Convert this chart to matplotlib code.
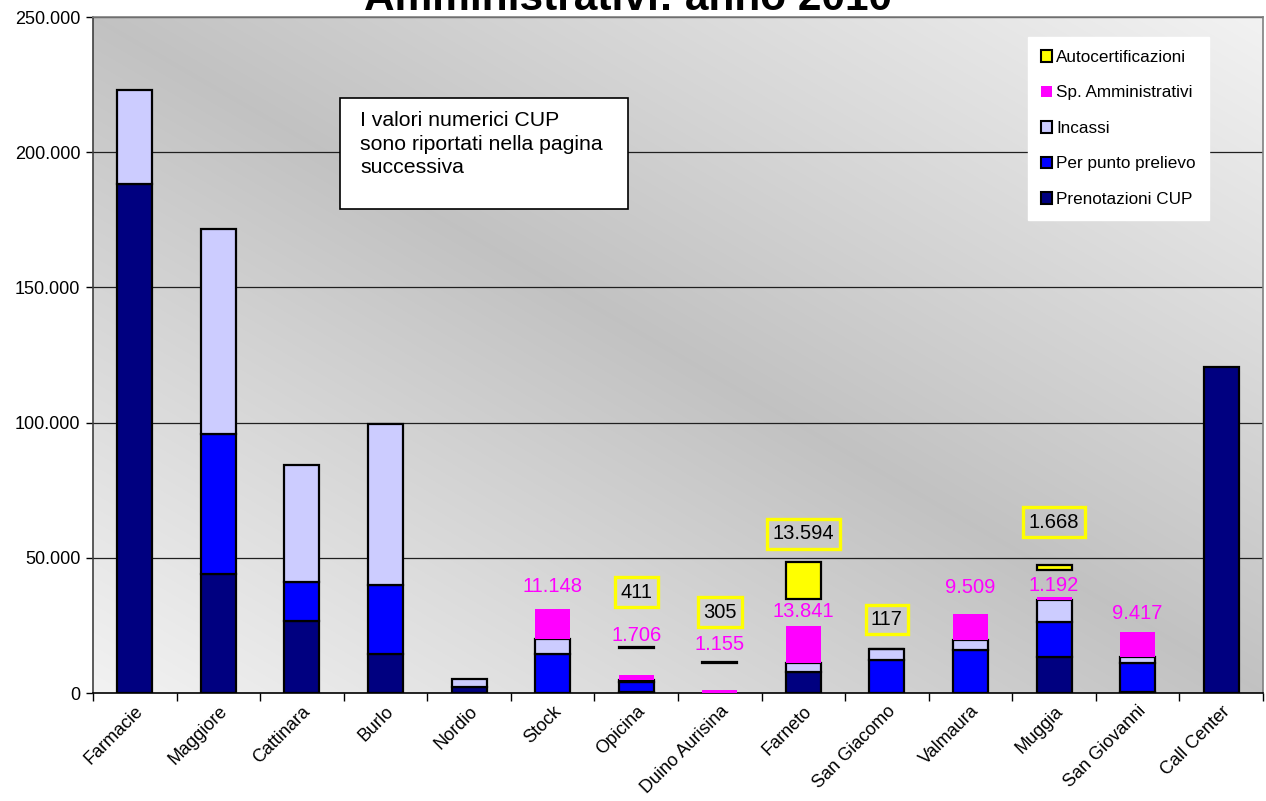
import numpy as np
import matplotlib
matplotlib.use("Agg")
import matplotlib.pyplot as plt
from matplotlib.patches import Patch, Rectangle
from matplotlib.ticker import FuncFormatter

plt.rcParams['font.family'] = ['Liberation Sans', 'DejaVu Sans']

categories = ["Farmacie", "Maggiore", "Cattinara", "Burlo", "Nordio", "Stock", "Opicina",
              "Duino Aurisina", "Farneto", "San Giacomo", "Valmaura", "Muggia", "San Giovanni",
              "Call Center"]
prenotazioni_cup = [188200, 44000, 26600, 14400, 2400, 0, 400, 0, 7800, 0, 0, 13300, 500, 120500]
per_punto_prelievo = [0, 51800, 14400, 25500, 0, 14500, 3500, 0, 0, 12300, 16000, 13000, 10600, 0]
incassi = [34800, 75800, 43300, 59500, 2700, 5500, 900, 0, 3300, 4000, 3600, 8100, 2200, 0]
sp_amministrativi = [0, 0, 0, 0, 0, 11148, 1706, 1155, 13841, 0, 9509, 1192, 9417, 0]
autocertificazioni = [0, 0, 0, 0, 0, 0, 411, 305, 13594, 117, 0, 1668, 0, 0]
# hidden spacer series that lifts the Autocertificazioni segment
spacer = [0, 0, 0, 0, 0, 0, 10000, 10000, 10000, 0, 0, 10000, 0, 0]

# label placement offsets (points above the segment top, label centre)
sp_label_off = {5: 15.8, 6: 28.8, 7: 33, 8: 10, 10: 19.4, 11: 7.9, 12: 13}
au_label_off = {6: 39.6, 7: 36, 8: 20, 9: 21, 11: 31}

fig = plt.figure(figsize=(12.66, 8.01), dpi=100)
ax = fig.add_axes([93/1266, 1-693/801, (1263-93)/1266, (693-17)/801])

x = np.arange(len(categories))
w = 0.42

# gradient background: dark along the top-left/bottom-right diagonal, light at the other corners
ny, nx = 300, 500
xs = np.linspace(0, 1, nx)
ys = np.linspace(1, 0, ny)
X, Y = np.meshgrid(xs, ys)
d = np.abs(X + Y - 1)
g = 0.76 + 0.19 * np.clip(d, 0, 1)
img = np.dstack([g, g, g])
ax.imshow(img, extent=[-0.5, len(categories)-0.5, 0, 250000], aspect='auto', zorder=0,
          interpolation='bilinear')

ax.set_xlim(-0.5, len(categories)-0.5)
ax.set_ylim(0, 250000)

for yv in range(50000, 250001, 50000):
    ax.axhline(yv, color='#202020', lw=0.9, zorder=1)

edge = dict(edgecolor='black', linewidth=1.6)
bottom = np.zeros(len(categories))
pc = np.array(prenotazioni_cup, float)
pp = np.array(per_punto_prelievo, float)
inc = np.array(incassi, float)
sp = np.array(sp_amministrativi, float)
au = np.array(autocertificazioni, float)
spc = np.array(spacer, float)

def draw(vals, color, bot, **kw):
    m = vals > 0
    ax.bar(x[m], vals[m], w, bottom=bot[m], color=color, zorder=3, **kw)

draw(pc, '#000080', bottom, **edge); bottom = bottom + pc
draw(pp, '#0000FF', bottom, **edge); bottom = bottom + pp
draw(inc, '#CCCCFF', bottom, **edge); bottom = bottom + inc
draw(sp, '#FF00FF', bottom, edgecolor='none'); bottom = bottom + sp
sp_top = bottom.copy()
bottom = bottom + spc
draw(au, '#FFFF00', bottom, **edge)
au_top = bottom + au

def fmt_it(v):
    return f"{int(round(v)):,}".replace(",", ".")

for i, off in sp_label_off.items():
    ax.annotate(fmt_it(sp[i]), (x[i], sp_top[i]), xytext=(0, off), textcoords='offset points',
                ha='center', va='center', color='#FF00FF', fontsize=14.5, zorder=5)
for i, off in au_label_off.items():
    ax.annotate(fmt_it(au[i]), (x[i], au_top[i]), xytext=(0, off), textcoords='offset points',
                ha='center', va='center', color='black', fontsize=14.5, zorder=5,
                bbox=dict(boxstyle='square,pad=0.27', fc='none', ec='#FFFF00', lw=2.4))

# y axis
ax.yaxis.set_major_formatter(FuncFormatter(lambda v, p: fmt_it(v)))
ax.set_yticks(range(0, 250001, 50000))
ax.tick_params(axis='y', labelsize=13, length=5, width=1, color='black', pad=4)
# x axis: ticks at boundaries
ax.set_xticks(np.arange(len(categories)+1) - 0.5, minor=False)
ax.set_xticklabels([])
ax.set_xticks(x, minor=True)
ax.set_xticklabels(categories, minor=True, rotation=45, ha='right', va='top',
                   rotation_mode='anchor', fontsize=13)
ax.tick_params(axis='x', which='major', length=6, width=1, color='black')
ax.tick_params(axis='x', which='minor', length=0, pad=7)

for s in ['left', 'bottom']:
    ax.spines[s].set_color('black'); ax.spines[s].set_linewidth(1.2)
for s in ['top', 'right']:
    ax.spines[s].set_color('#808080'); ax.spines[s].set_linewidth(1.2)
ax.spines['left'].set_color('#404040')

# note box
r = Rectangle(((340-93)/1170, (693-209)/676), (628-340)/1170, (209-98)/676, transform=ax.transAxes,
              facecolor='white', edgecolor='black', lw=1.2, zorder=5)
ax.add_patch(r)
ax.text((360-93)/1170, (693-111)/676, "I valori numerici CUP\nsono riportati nella pagina\nsuccessiva",
        transform=ax.transAxes, ha='left', va='top', fontsize=15.3, linespacing=1.3, zorder=6)

# legend
handles = [Patch(facecolor='#FFFF00', edgecolor='black', lw=1.5, label='Autocertificazioni'),
           Patch(facecolor='#FF00FF', edgecolor='none', label='Sp. Amministrativi'),
           Patch(facecolor='#CCCCFF', edgecolor='black', lw=1.5, label='Incassi'),
           Patch(facecolor='#0000FF', edgecolor='black', lw=1.5, label='Per punto prelievo'),
           Patch(facecolor='#000080', edgecolor='black', lw=1.5, label='Prenotazioni CUP')]
leg = fig.legend(handles=handles, loc='upper left', bbox_to_anchor=(1028/1266, 1-37/801),
                 frameon=True, fancybox=False, fontsize=12.3, handlelength=0.65, handleheight=0.65,
                 handletextpad=0.25, labelspacing=1.2, borderpad=0.75, borderaxespad=0)
leg.get_frame().set_facecolor('white'); leg.get_frame().set_edgecolor('white')
leg.get_frame().set_alpha(1)

fig.text(628/1266, 1-10/801, "Amministrativi: anno 2010", ha='center', va='baseline',
         fontsize=30.5, fontweight='bold')

fig.savefig('out.png', dpi=100)
